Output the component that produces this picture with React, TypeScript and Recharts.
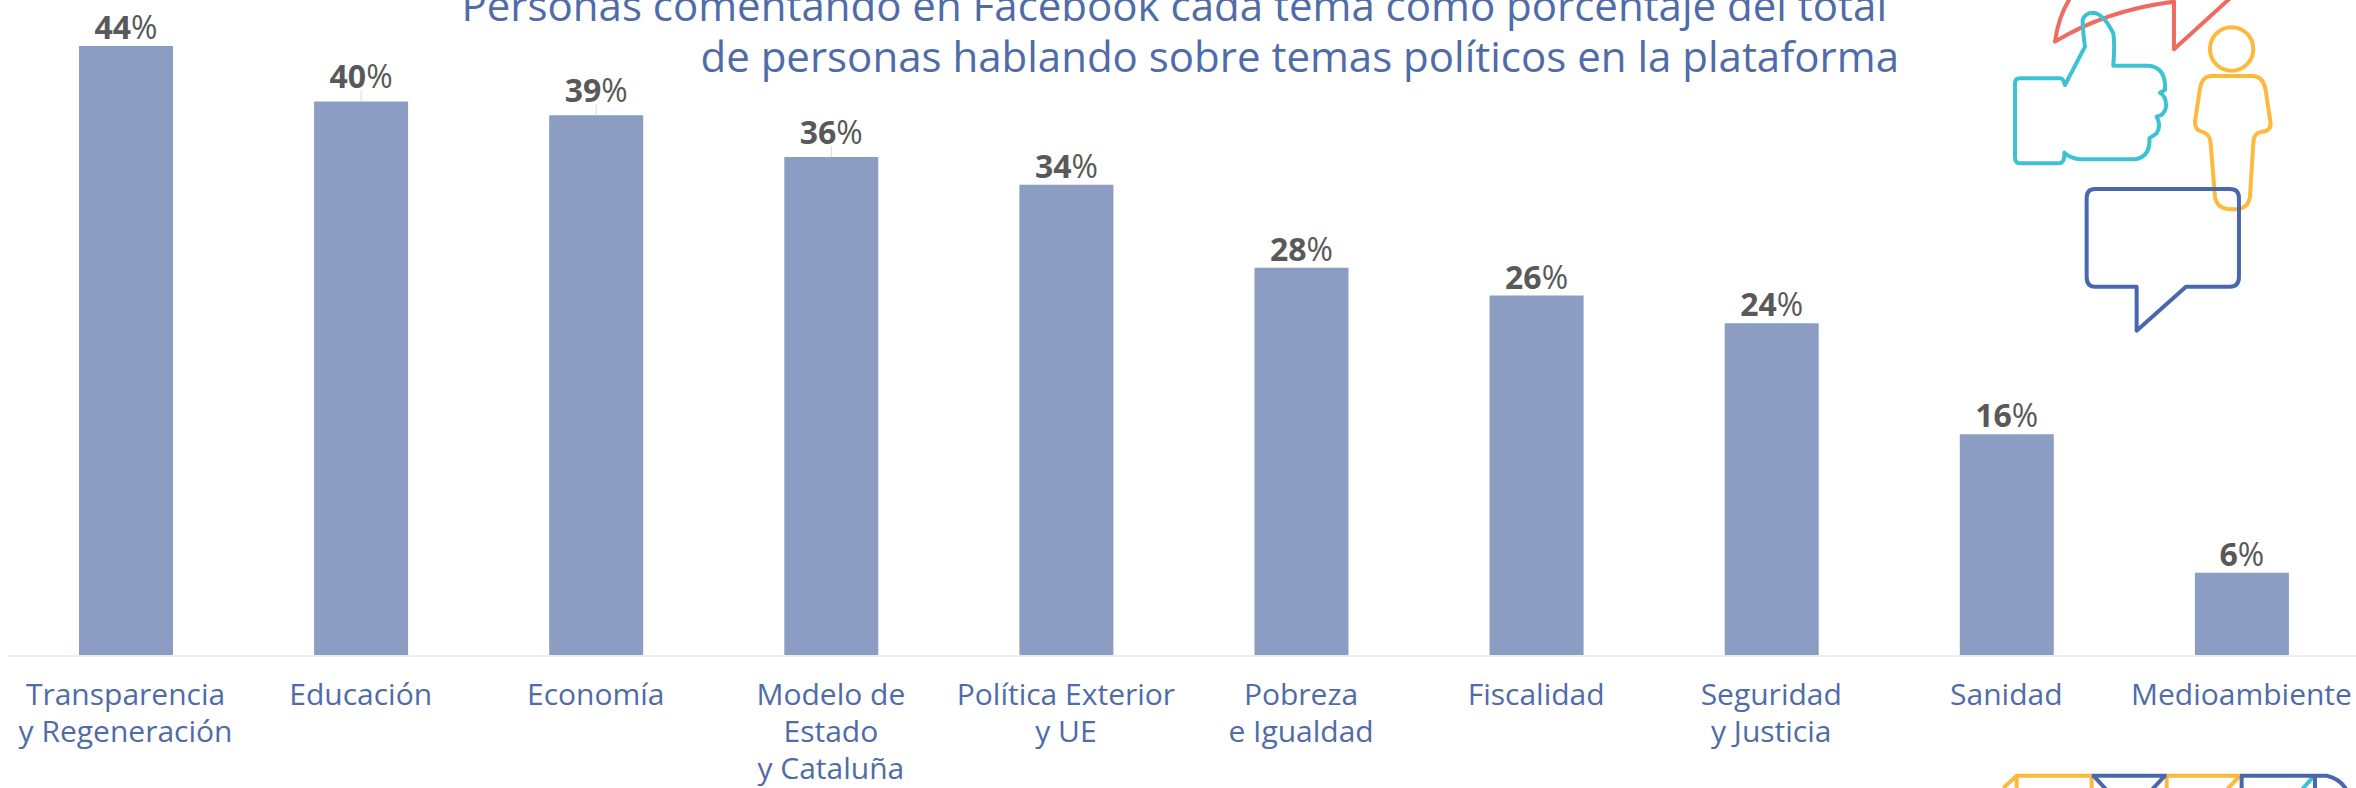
import React from "react";
import { BarChart, Bar, XAxis, YAxis, LabelList } from "recharts";

const CATEGORIES = [
  ["Transparencia", "y Regeneración"],
  ["Educación"],
  ["Economía"],
  ["Modelo de", "Estado", "y Cataluña"],
  ["Política Exterior", "y UE"],
  ["Pobreza", "e Igualdad"],
  ["Fiscalidad"],
  ["Seguridad", "y Justicia"],
  ["Sanidad"],
  ["Medioambiente"],
];
const VALUES = [44, 40, 39, 36, 34, 28, 26, 24, 16, 6];
const TITLE_LINES = [
  "Personas comentando en Facebook cada tema como porcentaje del total",
  "de personas hablando sobre temas políticos en la plataforma",
];

const FONT = "'Open Sans', sans-serif";
const BLUE_TEXT = "#4f6ca8";

const chartData = CATEGORIES.map((lines, i) => ({ name: lines.join("|"), value: VALUES[i] }));

const CategoryTick = ({ x, y, payload }: any) => (
  <text x={x} y={y} textAnchor="middle" fontFamily={FONT} fontSize={30} fill={BLUE_TEXT}>
    {String(payload.value).split("|").map((line, i) => (
      <tspan key={i} x={x} y={y + 41 + i * 37}>{line}</tspan>
    ))}
  </text>
);

const ValueLabel = ({ x, y, width, value }: any) => {
  const cx = x + width / 2;
  // the middle labels sit a bit higher, with a thin leader line down to the bar
  const lifted = value >= 36 && value <= 40;
  const baseline = y - (lifted ? 13 : 7);
  return (
    <g>
      {lifted && <line x1={cx} x2={cx} y1={y - 11} y2={y} stroke="#d9d9d9" strokeWidth={1} />}
      <text x={cx} y={baseline} textAnchor="middle" fontFamily={FONT} fontSize={32} fill="#595959">
        <tspan fontWeight={700}>{value}</tspan>
        <tspan>%</tspan>
      </text>
    </g>
  );
};

// decorative outline icons, drawn in 3x coordinates of the corners they sit in
const Icons = () => (
  <svg width={2356} height={788} style={{ position: "absolute", left: 0, top: 0 }}>
    <g transform="translate(1900,0) scale(0.3333)" fill="none" strokeWidth={12} strokeLinejoin="round">
      <path stroke="#ef6b60" d="M510,-5 Q475,50 465,125 Q620,30 822,5 L822,148 L990,-5" />
      <path stroke="#3cc3d3" d="M345,250 Q345,235 360,235 L480,235 Q490,235 495,255 L555,140 Q548,90 548,60 Q555,38 580,38 Q610,40 640,100 Q645,130 640,197 L745,197 Q790,200 795,250 L795,270 L780,278 Q800,290 798,320 Q795,345 770,350 Q785,375 770,400 L748,415 Q752,470 705,478 L540,478 Q510,475 493,458 Q495,490 475,490 L360,490 Q345,490 345,470 Z" />
      <circle stroke="#fdb93b" cx={995} cy={147} r={65} />
      <path stroke="#fdb93b" d="M930,228 L1060,228 Q1090,230 1097,270 L1112,370 Q1112,395 1085,395 Q1060,400 1060,430 L1050,590 Q1045,628 1000,628 Q950,628 945,590 L932,430 Q930,400 905,395 Q885,390 885,365 L900,265 Q905,232 930,228 Z" />
      <path stroke="#4a67ae" d="M585,567 L990,567 Q1017,567 1017,595 L1017,830 Q1017,860 990,860 L858,860 L710,992 L710,860 L585,860 Q560,860 560,830 L560,595 Q560,567 585,567 Z" />
    </g>
    <g transform="translate(1980,760) scale(0.3333)" fill="none" strokeWidth={12}>
      <path stroke="#fdb93b" d="M70,84 L110,47 L335,47 M110,47 L110,90 M335,47 L335,90 M560,47 L780,47 M560,47 L560,90 M780,47 L740,90" />
      <path stroke="#3cc3d3" d="M1000,50 L965,90" />
      <path stroke="#4a67ae" d="M335,47 L560,47 M340,47 L380,90 M555,47 L515,90 M780,47 L1040,47 Q1080,55 1100,90 M785,47 L785,90 M1005,47 L1005,90" />
    </g>
  </svg>
);

export default function App() {
  return (
    <div style={{ position: "absolute", left: 0, top: 0, width: 2356, height: 788, background: "#fff", overflow: "hidden" }}>
      <div style={{ position: "absolute", right: 457, top: -21, textAlign: "right", fontFamily: FONT, fontSize: 42, lineHeight: "51px", color: BLUE_TEXT, whiteSpace: "nowrap" }}>
        <div style={{ marginRight: 12 }}>{TITLE_LINES[0]}</div>
        <div>{TITLE_LINES[1]}</div>
      </div>
      <BarChart
        width={2356}
        height={788}
        data={chartData}
        margin={{ top: 46, right: -3, bottom: 0, left: 8 }}
        style={{ position: "absolute", left: 0, top: 0 }}
      >
        <XAxis
          dataKey="name"
          axisLine={{ stroke: "#eeeeee", strokeWidth: 2 }}
          tickLine={false}
          interval={0}
          height={132}
          tick={<CategoryTick />}
        />
        <YAxis hide domain={[0, 44]} />
        <Bar dataKey="value" fill="#8b9dc3" barSize={94} isAnimationActive={false}>
          <LabelList dataKey="value" content={<ValueLabel />} />
        </Bar>
      </BarChart>
      <Icons />
    </div>
  );
}
